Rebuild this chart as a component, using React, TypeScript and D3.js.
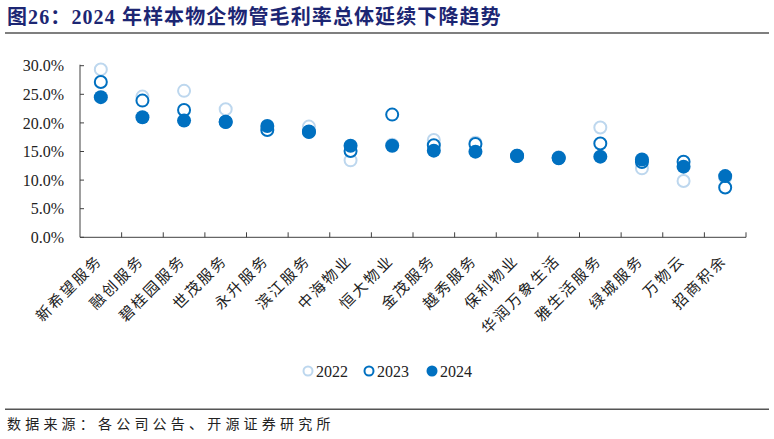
import React from 'react';
import * as d3 from 'd3';

const categories = [
	'新希望服务', '融创服务', '碧桂园服务', '世茂服务', '永升服务', '滨江服务',
	'中海物业', '恒大物业', '金茂服务', '越秀服务', '保利物业', '华润万象生活',
	'雅生活服务', '绿城服务', '万物云', '招商积余',
];
const v2022 = [29.35, 24.6, 25.6, 22.4, 19.0, 19.35, 13.45, 16.2, 17.0, 16.55, 14.3, 14.0, 19.2, 12.05, 9.85, 10.4];
const v2023 = [27.15, 23.9, 22.25, 20.2, 18.75, 18.5, 15.1, 21.45, 16.1, 16.3, 14.2, 13.8, 16.4, 13.15, 13.2, 8.7];
const v2024 = [24.5, 20.98, 20.4, 20.15, 19.45, 18.4, 16.0, 16.0, 15.15, 14.97, 14.27, 13.9, 14.1, 13.6, 12.35, 10.7];
const yTicks = [0, 5, 10, 15, 20, 25, 30];
const seriesNames = ['2022', '2023', '2024'];

const W = 774;
const H = 439;
const plot = { left: 80, right: 746, top: 65.7, bottom: 237.3 };
const C_DARK = '#0070C0';
const C_LIGHT = '#BDD7EE';
const AXIS = '#404040';
const SERIF = '"Liberation Serif", "Times New Roman", serif';
const MIXED = '"Liberation Serif", "Noto Sans CJK SC", serif';
const CJK = '"Noto Sans CJK SC", "Liberation Serif", sans-serif';

export default function App() {
	const x = d3.scaleBand<string>().domain(categories).range([plot.left, plot.right]).padding(0);
	const y = d3.scaleLinear().domain([0, 30]).range([plot.bottom, plot.top]);
	const bw = x.bandwidth();
	const cx = (c: string) => (x(c) ?? 0) + bw / 2;

	const series = [
		{ name: seriesNames[0], vals: v2022, stroke: C_LIGHT, fill: '#fff', r: 6, sw: 2 },
		{ name: seriesNames[1], vals: v2023, stroke: C_DARK, fill: '#fff', r: 6, sw: 2 },
		{ name: seriesNames[2], vals: v2024, stroke: C_DARK, fill: C_DARK, r: 7, sw: 0 },
	];

	const legendX = [308, 369, 432];

	return (
		<svg
			width={W}
			height={H}
			style={{ position: 'absolute', left: 0, top: 0, background: '#fff' }}
		>
			{/* Title */}
			<text x={7} y={24} fontFamily={MIXED} fontWeight="bold" fontSize={20} letterSpacing={1.1} fill="#1C2673">
				图26：2024 年样本物企物管毛利率总体延续下降趋势
			</text>
			<line x1={5} x2={769} y1={33} y2={33} stroke="#555" strokeWidth={1.5} />

			{/* Y axis */}
			<line x1={plot.left} x2={plot.left} y1={plot.top - 1} y2={plot.bottom} stroke={AXIS} strokeWidth={1} />
			{yTicks.map((t) => (
				<g key={t}>
					<line x1={plot.left} x2={plot.left + 4} y1={y(t)} y2={y(t)} stroke={AXIS} />
					<text
						x={64}
						y={y(t)}
						dy="0.35em"
						textAnchor="end"
						fontFamily={SERIF}
						fontSize={16}
						fill="#222"
					>
						{t.toFixed(1)}%
					</text>
				</g>
			))}

			{/* X axis */}
			<line x1={plot.left} x2={plot.right} y1={plot.bottom} y2={plot.bottom} stroke={AXIS} strokeWidth={1} />
			{categories.map((c) => (
				<line
					key={'t' + c}
					x1={(x(c) ?? 0) + bw}
					x2={(x(c) ?? 0) + bw}
					y1={plot.bottom}
					y2={plot.bottom - 5}
					stroke={AXIS}
				/>
			))}
			{categories.map((c) => (
				<text
					key={'l' + c}
					transform={`translate(${cx(c) + 2.5},${plot.bottom + 24}) rotate(-45)`}
					textAnchor="end"
					fontFamily={CJK}
					fontSize={15}
					letterSpacing={2.3}
					fill="#222"
				>
					{c}
				</text>
			))}

			{/* Points */}
			{series.map((s) => (
				<g key={s.name}>
					{s.vals.map((v, i) => (
						<circle
							key={i}
							cx={cx(categories[i])}
							cy={y(v)}
							r={s.r}
							fill={s.fill}
							stroke={s.sw ? s.stroke : 'none'}
							strokeWidth={s.sw}
						/>
					))}
				</g>
			))}

			{/* Legend */}
			{series.map((s, i) => (
				<g key={'lg' + s.name}>
					<circle
						cx={legendX[i]}
						cy={371}
						r={s.sw ? 4.5 : 5.5}
						fill={s.fill}
						stroke={s.sw ? s.stroke : 'none'}
						strokeWidth={s.sw}
					/>
					<text x={legendX[i] + 8} y={371} dy="0.35em" fontFamily={SERIF} fontSize={16} fill="#222">
						{s.name}
					</text>
				</g>
			))}

			{/* Source */}
			<line x1={5} x2={769} y1={409.3} y2={409.3} stroke="#555" strokeWidth={1.5} />
			<text x={7} y={429} fontFamily={CJK} fontSize={14} letterSpacing={4.2} fill="#222">
				数据来源：各公司公告、开源证券研究所
			</text>
		</svg>
	);
}
